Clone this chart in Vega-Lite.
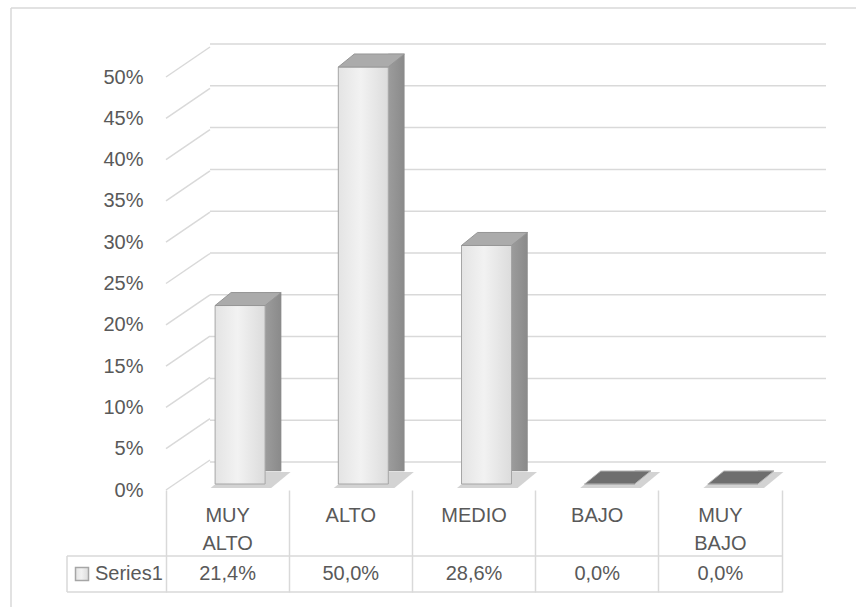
{
  "$schema": "https://vega.github.io/schema/vega-lite/v6.json",
  "width": 616,
  "height": 418,
  "autosize": {"type": "none"},
  "padding": {"left": 210, "top": 44, "right": 30, "bottom": 145},
  "background": "white",
  "config": {
    "locale": {"number": {"decimal": ",", "thousands": ".", "grouping": [3], "currency": ["", "\u00a0€"]}},
    "view": {"stroke": null},
    "font": "Liberation Sans Narrow, Liberation Sans, Arial, sans-serif",
    "axis": {"labelFont": "Liberation Sans Narrow, Liberation Sans, Arial, sans-serif", "labelColor": "#595959", "labelFontSize": 20},
    "legend": {"labelFont": "Liberation Sans Narrow, Liberation Sans, Arial, sans-serif"},
    "text": {"font": "Liberation Sans Narrow, Liberation Sans, Arial, sans-serif"}
  },
  "datasets": {
    "resultados": [
      {"nivel": "MUY ALTO", "porcentaje": 0.214, "serie": "Series1"},
      {"nivel": "ALTO", "porcentaje": 0.5, "serie": "Series1"},
      {"nivel": "MEDIO", "porcentaje": 0.286, "serie": "Series1"},
      {"nivel": "BAJO", "porcentaje": 0, "serie": "Series1"},
      {"nivel": "MUY BAJO", "porcentaje": 0, "serie": "Series1"}
    ],
    "escala": [
      {"nivel_eje": 0}, {"nivel_eje": 0.05}, {"nivel_eje": 0.1}, {"nivel_eje": 0.15},
      {"nivel_eje": 0.2}, {"nivel_eje": 0.25}, {"nivel_eje": 0.3}, {"nivel_eje": 0.35},
      {"nivel_eje": 0.4}, {"nivel_eje": 0.45}, {"nivel_eje": 0.5}
    ]
  },
  "layer": [
    {
      "description": "Outer chart frame (left and top edges)",
      "data": {"values": [{}]},
      "encoding": {
        "x": {"datum": 0, "type": "quantitative", "scale": {"domain": [0, 1], "range": [-199, 646], "nice": false, "zero": false}, "axis": null},
        "y": {"datum": 0, "type": "quantitative", "scale": {"domain": [0, 1], "range": [-36, 563], "nice": false, "zero": false}, "axis": null}
      },
      "layer": [
        {"mark": {"type": "rule", "color": "#d9d9d9", "strokeWidth": 1.5}, "encoding": {"x2": {"datum": 1}}},
        {"mark": {"type": "rule", "color": "#d9d9d9", "strokeWidth": 1.5}, "encoding": {"y2": {"datum": 1}}}
      ]
    },
    {
      "description": "Data table frame around the Series1 row",
      "data": {"values": [{}]},
      "encoding": {
        "x": {"datum": 0, "type": "quantitative", "scale": {"domain": [0, 1], "range": [-143, 572], "nice": false, "zero": false}, "axis": null}
      },
      "layer": [
        {"mark": {"type": "rule", "color": "#d9d9d9", "strokeWidth": 1.5},
         "encoding": {"x2": {"datum": 1}, "y": {"datum": 0, "type": "quantitative", "scale": {"domain": [0, 1], "range": [512, 548], "nice": false, "zero": false}, "axis": null}}},
        {"mark": {"type": "rule", "color": "#d9d9d9", "strokeWidth": 1.5},
         "encoding": {"x2": {"datum": 1}, "y": {"datum": 1, "type": "quantitative"}}},
        {"mark": {"type": "rule", "color": "#d9d9d9", "strokeWidth": 1.5},
         "encoding": {"y": {"datum": 0, "type": "quantitative"}, "y2": {"datum": 1}}}
      ]
    },
    {
      "description": "Back wall gridlines",
      "data": {"name": "escala"},
      "mark": {"type": "rule", "color": "#d9d9d9", "strokeWidth": 1.5},
      "encoding": {
        "y": {"field": "nivel_eje", "type": "quantitative", "scale": {"domain": [0, 0.5], "range": [418, 0], "nice": false}, "axis": null}
      }
    },
    {
      "description": "Side wall lines and the percentage axis",
      "data": {"name": "escala"},
      "mark": {"type": "rule", "color": "#d9d9d9", "strokeWidth": 1.5, "y2Offset": -30},
      "encoding": {
        "x": {"datum": 0, "type": "quantitative", "scale": {"domain": [0, 1], "range": [-44, 0], "nice": false, "zero": false}, "axis": null},
        "x2": {"datum": 1},
        "y": {
          "field": "nivel_eje", "type": "quantitative",
          "scale": {"domain": [0, 0.5], "range": [446, 33], "nice": false},
          "axis": {"orient": "left", "offset": 44, "format": ".0%", "domain": false, "ticks": false, "grid": false,
                   "labelPadding": 23, "title": null, "tickCount": 10, "labelOverlap": false}
        },
        "y2": {"field": "nivel_eje"}
      }
    },
    {
      "description": "Bars and data table",
      "data": {"name": "resultados"},
      "encoding": {
        "x": {
          "field": "nivel", "type": "nominal", "sort": null,
          "scale": {"range": [-44, 572], "paddingInner": 0, "paddingOuter": 0},
          "axis": {"orient": "bottom", "offset": 28, "title": null, "domain": false, "grid": false,
                   "ticks": true, "tickSize": 102, "tickColor": "#d9d9d9", "tickWidth": 1.5,
                   "bandPosition": 1, "tickExtra": true, "labelAngle": 0,
                   "labelExpr": "split(datum.label, ' ')", "labelBaseline": "top", "labelLineHeight": 28,
                   "labelPadding": -87, "labelOverlap": false}
        }
      },
      "layer": [
        {
          "mark": {"type": "point", "shape": "M -1 0.197 L 0.515 0.197 L 1 -0.197 L -0.515 -0.197 Z",
                   "size": 6400, "filled": true, "fill": "#808080", "opacity": 0.35, "strokeWidth": 0,
                   "xOffset": 23, "yOffset": -4},
          "encoding": {"y": {"datum": 0, "type": "quantitative", "scale": {"domain": [0, 0.5], "range": [440, 23], "nice": false}, "axis": null}}
        },
        {
          "mark": {"type": "bar", "width": 16, "xOffset": 45.5, "yOffset": -13,
                   "fill": {"gradient": "linear", "x1": 0, "x2": 1, "y1": 0, "y2": 0,
                            "stops": [{"offset": 0, "color": "#9c9c9c"}, {"offset": 1, "color": "#8a8a8a"}]},
                   "stroke": "#8a8a8a", "strokeWidth": 0.5},
          "encoding": {"y": {"field": "porcentaje", "type": "quantitative"}}
        },
        {
          "mark": {"type": "bar", "width": 50, "xOffset": 12.5,
                   "fill": {"gradient": "linear", "x1": 0, "x2": 1, "y1": 0, "y2": 0,
                            "stops": [{"offset": 0, "color": "#e4e4e4"}, {"offset": 0.45, "color": "#f2f2f2"}, {"offset": 1, "color": "#dcdcdc"}]},
                   "stroke": "#a6a6a6", "strokeWidth": 1},
          "encoding": {
            "y": {"field": "porcentaje", "type": "quantitative"},
            "opacity": {
              "field": "serie", "type": "ordinal", "scale": {"range": [1, 1]},
              "legend": {"orient": "none", "legendX": -138, "legendY": 520, "title": null,
                         "symbolType": "square", "symbolSize": 169, "labelFontSize": 20,
                         "labelColor": "#595959", "labelOffset": 3, "padding": 0,
                         "encode": {"symbols": {"stroke": {"value": "#8c8c8c"}, "strokeWidth": {"value": 1}}}}
            }
          }
        },
        {
          "mark": {"type": "point", "shape": "M -1 0.197 L 0.515 0.197 L 1 -0.197 L -0.515 -0.197 Z",
                   "size": 4356, "filled": true, "opacity": 1, "strokeWidth": 1,
                   "xOffset": 20.5, "yOffset": -6.5},
          "encoding": {
            "y": {"field": "porcentaje", "type": "quantitative"},
            "fill": {"condition": {"test": "datum.porcentaje === 0", "value": "#6e6e6e"}, "value": "#ababab"},
            "stroke": {"condition": {"test": "datum.porcentaje === 0", "value": "#b5b5b5"}, "value": "#969696"}
          }
        },
        {
          "mark": {"type": "text", "fontSize": 20, "baseline": "middle", "align": "center", "dy": 90, "color": "#595959"},
          "encoding": {
            "y": {"datum": 0, "type": "quantitative"},
            "text": {"field": "porcentaje", "type": "quantitative", "format": ".1%"}
          }
        }
      ]
    }
  ],
  "resolve": {
    "scale": {"x": "independent", "y": "independent"},
    "axis": {"x": "independent", "y": "independent"}
  }
}
